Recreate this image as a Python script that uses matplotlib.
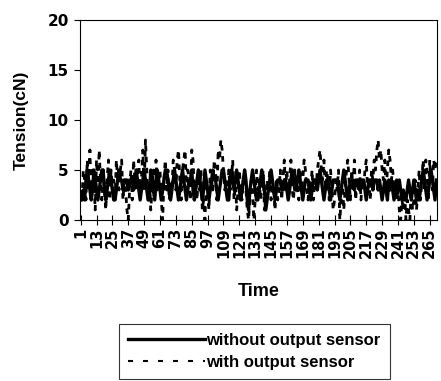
import matplotlib
matplotlib.use("Agg")
import matplotlib.pyplot as plt

# tension readings (cN), one per time step
without_sensor = [
    2, 2, 3, 2, 4, 5, 4, 3, 2, 3, 5, 4, 3, 2, 3,
    4, 5, 5, 3, 2, 3, 4, 5, 4, 3, 2, 2, 3, 4, 5,
    4, 4, 3, 4, 4, 4, 3, 4, 4, 4, 3, 4, 5, 4, 3,
    2, 3, 4, 5, 4, 3, 2, 2, 5, 4, 3, 2, 4, 5, 4,
    3, 2, 3, 4, 5, 5, 4, 3, 2, 3, 4, 5, 4, 3, 2,
    3, 4, 5, 4, 3, 2, 3, 4, 4, 5, 3, 2, 3, 4, 5,
    4, 3, 2, 3, 5, 4, 3, 2, 3, 4, 5, 4, 4, 3, 2,
    3, 4, 5, 5, 4, 3, 2, 2, 4, 5, 4, 3, 4, 5, 4,
    3, 2, 3, 4, 5, 4, 2, 1, 3, 4, 5, 4, 3, 2, 2,
    3, 4, 5, 4, 3, 1, 2, 3, 4, 5, 4, 3, 2, 3, 4,
    4, 4, 3, 3, 4, 4, 3, 2, 3, 4, 5, 4, 3, 3, 4,
    5, 4, 3, 2, 3, 4, 4, 4, 3, 2, 3, 4, 4, 4, 3,
    4, 5, 4, 3, 2, 3, 4, 4, 3, 2, 3, 4, 4, 4, 4,
    3, 2, 3, 4, 5, 4, 3, 2, 3, 4, 4, 4, 3, 4, 4,
    4, 3, 4, 4, 4, 3, 2, 3, 4, 4, 4, 3, 4, 4, 4,
    3, 4, 3, 2, 3, 4, 3, 2, 4, 3, 4, 3, 2, 3, 4,
    3, 4, 3, 2, 3, 2, 2, 3, 4, 3, 2, 3, 4, 3, 2,
    3, 2, 3, 4, 5, 4, 3, 2, 3, 4, 5, 4, 3, 2, 4,
]

with_sensor = [
    3, 2, 5, 4, 2, 6, 3, 7, 2, 5, 4, 1, 6, 3, 7,
    4, 2, 5, 3, 1, 4, 6, 2, 5, 3, 4, 2, 6, 4, 3,
    5, 6, 2, 4, 3, 1, 0, 3, 5, 2, 6, 4, 3, 5, 6,
    2, 4, 7, 3, 8, 5, 2, 4, 1, 3, 5, 2, 6, 3, 4,
    5, 2, 0, 4, 6, 3, 5, 2, 4, 3, 6, 5, 3, 6, 7,
    4, 2, 5, 6, 7, 3, 5, 4, 2, 7, 6, 3, 4, 2, 5,
    3, 5, 1, 2, 0, 4, 3, 1, 5, 4, 3, 6, 5, 2, 7,
    6, 8, 7, 5, 3, 4, 2, 5, 3, 4, 6, 2, 4, 1, 3,
    5, 3, 2, 4, 5, 3, 1, 0, 2, 4, 3, 0, 2, 5, 3,
    4, 2, 3, 5, 1, 2, 4, 3, 5, 2, 4, 3, 1, 4, 2,
    3, 5, 2, 4, 6, 3, 5, 2, 4, 6, 3, 2, 5, 4, 3,
    2, 5, 3, 4, 6, 5, 3, 2, 4, 3, 5, 2, 4, 3, 5,
    6, 7, 5, 4, 6, 3, 5, 4, 2, 5, 3, 1, 2, 4, 3,
    5, 0, 2, 4, 1, 3, 5, 6, 4, 2, 5, 3, 6, 2, 4,
    3, 5, 2, 4, 3, 5, 6, 3, 4, 2, 5, 4, 6, 5, 7,
    8, 6, 7, 5, 4, 6, 3, 5, 7, 6, 4, 5, 3, 4, 2,
    3, 1, 0, 2, 1, 3, 0, 2, 1, 0, 3, 1, 2, 4, 1,
    3, 5, 2, 4, 6, 3, 6, 5, 2, 6, 4, 3, 6, 5, 6,
]

time = list(range(1, len(without_sensor) + 1))
xtick_pos = list(range(1, 266, 12))
yticks = [0, 5, 10, 15, 20]

fig = plt.figure(figsize=(4.41, 3.81), dpi=100)
ax = fig.add_axes([80 / 441, 161 / 381, 357 / 441, 200 / 381])

ax.plot(time, without_sensor, color="black", lw=2.4, label="without output sensor")
ax.plot(time, with_sensor, color="black", lw=2.0, linestyle=(0, (2, 2)),
        label="with output sensor")

ax.set_xlim(0.5, len(time) + 0.5)
ax.set_ylim(0, 20)
ax.set_yticks(yticks)
ax.set_xticks(xtick_pos)
ax.set_xticklabels([str(t) for t in xtick_pos], rotation=90,
                   fontfamily="DejaVu Sans", fontweight="bold", fontsize=10.5)
ax.set_yticklabels([str(v) for v in yticks],
                   fontfamily="DejaVu Sans", fontweight="bold", fontsize=11)
ax.tick_params(axis="x", direction="inout", length=7, width=0.8, pad=2)
ax.tick_params(axis="y", direction="out", length=4, width=0.8, pad=4)
for s in ax.spines.values():
    s.set_linewidth(0.8)

ax.set_ylabel("Tension(cN)", fontfamily="Liberation Sans", fontweight="bold", fontsize=12.5)
ax.yaxis.set_label_coords(-0.143, 0.5)
ax.set_xlabel("Time", fontfamily="Liberation Sans", fontweight="bold", fontsize=13)
ax.xaxis.set_label_coords(0.5, -0.315)

leg = fig.legend(loc="upper left", bbox_to_anchor=(119 / 441, 57 / 381),
                 frameon=True, fancybox=False, edgecolor="black",
                 handlelength=4.6, handletextpad=0.1, borderpad=0.55,
                 labelspacing=0.42, borderaxespad=0,
                 prop={"family": "Liberation Sans", "weight": "bold", "size": 12})
leg.get_frame().set_linewidth(0.8)
leg.get_lines()[1].set_linewidth(1.5)
leg.get_lines()[1].set_linestyle((0, (2.4, 4.8)))

fig.savefig("out.png", dpi=100)
